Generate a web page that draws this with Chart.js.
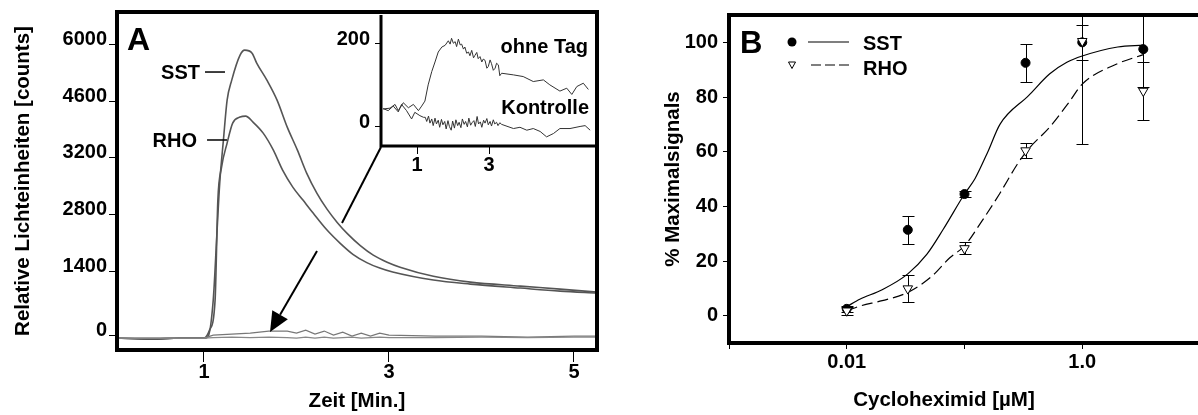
<!DOCTYPE html>
<html>
<head>
<meta charset="utf-8">
<title>Lichteinheiten und Cycloheximid</title>
<script src="https://cdn.jsdelivr.net/npm/chart.js@4.4.1/dist/chart.umd.min.js"></script>
<style>
  html, body { margin: 0; padding: 0; background: #fff; overflow: hidden; }
  #page { position: relative; width: 1198px; height: 415px; overflow: hidden; }
  canvas { position: absolute; top: 0; }
  #chartA { left: 0; }
  #inset { left: 320px; }
  #chartB { left: 640px; }
</style>
</head>
<body>
<div id="page">
  <canvas id="chartA" width="610" height="415"></canvas>
  <canvas id="inset" width="290" height="180"></canvas>
  <canvas id="chartB" width="575" height="415"></canvas>
</div>
<script>
// Panel A: light signal over time
const timeTicks = [1, 3, 5];
// the printed axis is not evenly labelled, so each label sits at its own position
const countTickPos = [0, 1545, 2920, 4295, 5650, 7025];
const countTickLabels = ['0', '1400', '2800', '3200', '4600', '6000'];

const sstTime = [0.06, 0.42, 0.74, 1.0, 1.04, 1.10, 1.14, 1.17, 1.21, 1.25, 1.30, 1.39, 1.44, 1.52, 1.57, 1.68, 1.79, 1.90, 2.01, 2.11, 2.22, 2.33, 2.44, 2.55, 2.69, 2.83, 2.98, 3.12, 3.48, 3.88, 4.42, 4.85, 5.25];
const sstCounts = [-72, -97, -72, -72, -48, 845, 2462, 3669, 4707, 5673, 6156, 6759, 6880, 6807, 6566, 6156, 5673, 5021, 4466, 3911, 3428, 3040, 2720, 2450, 2160, 1930, 1760, 1640, 1420, 1279, 1183, 1110, 1038];

const rhoTime = [0.06, 0.42, 0.74, 1.0, 1.06, 1.12, 1.15, 1.19, 1.25, 1.31, 1.39, 1.45, 1.53, 1.64, 1.75, 1.85, 1.96, 2.07, 2.18, 2.33, 2.47, 2.61, 2.76, 2.90, 3.04, 3.48, 3.88, 4.42, 4.85, 5.25];
const rhoCounts = [-72, -97, -72, -72, 120, 845, 3259, 4056, 4635, 5118, 5263, 5287, 5142, 4876, 4466, 3983, 3573, 3259, 2945, 2535, 2221, 1950, 1750, 1617, 1521, 1328, 1231, 1135, 1062, 1014];

// ohne Tag / Kontrolle on the big scale (near the baseline)
const lowTime = [0.06, 1.0, 1.1, 1.3, 1.5, 1.7, 1.9, 2.0, 2.1, 2.2, 2.3, 2.4, 2.5, 2.6, 2.7, 2.8, 2.9, 3.0, 3.5, 4.0, 4.5, 5.0, 5.25];
const lowTag = [-72, -72, 0, 24, 48, 97, 97, 48, 121, 24, 97, 0, 72, -24, 48, -24, 48, 0, -24, -24, -48, -24, -24];
const lowKontrolle = [-72, -72, -60, -48, -60, -48, -60, -72, -48, -72, -48, -72, -60, -48, -72, -60, -48, -60, -60, -48, -60, -48, -48];

// Inset: zoom on the small signals
const insetTimeTicks = [1, 3];
const insetCountTicks = [0, 200];
const tagTime = [0.06, 0.25, 0.39, 0.48, 0.62, 0.76, 0.90, 1.04, 1.13, 1.22, 1.31, 1.41, 1.50, 1.59, 1.69, 1.78, 1.87, 1.92, 1.96, 2.01, 2.06, 2.10, 2.15, 2.20, 2.24, 2.29, 2.33, 2.38, 2.43, 2.47, 2.52, 2.57, 2.61, 2.66, 2.70, 2.75, 2.80, 2.84, 2.89, 2.94, 2.98, 3.03, 3.07, 3.12, 3.17, 3.21, 3.26, 3.30, 3.35, 3.68, 3.95, 4.23, 4.51, 4.69, 4.97, 5.16, 5.30, 5.44, 5.62, 5.76];
const tagCounts = [42, 44, 53, 38, 57, 45, 53, 38, 49, 61, 100, 132, 155, 179, 191, 195, 206, 198, 212, 200, 204, 192, 210, 196, 198, 186, 191, 176, 179, 170, 183, 165, 171, 178, 163, 168, 155, 162, 159, 140, 144, 160, 151, 135, 140, 152, 148, 122, 128, 124, 120, 108, 112, 100, 85, 92, 77, 96, 104, 89];
const kontTime = [0.06, 0.20, 0.34, 0.48, 0.57, 0.71, 0.85, 0.94, 1.08, 1.18, 1.23, 1.27, 1.32, 1.36, 1.41, 1.45, 1.50, 1.54, 1.59, 1.63, 1.68, 1.72, 1.77, 1.81, 1.86, 1.90, 1.95, 1.99, 2.04, 2.08, 2.13, 2.17, 2.22, 2.26, 2.31, 2.35, 2.40, 2.44, 2.49, 2.53, 2.58, 2.62, 2.67, 2.71, 2.76, 2.80, 2.85, 2.89, 2.94, 2.98, 3.03, 3.07, 3.12, 3.16, 3.21, 3.25, 3.30, 3.35, 3.68, 3.86, 4.05, 4.23, 4.42, 4.60, 4.79, 4.97, 5.25, 5.53, 5.67, 5.81];
const kontCounts = [43, 38, 49, 35, 53, 38, 18, 34, 26, 22, 22, 12, 25, 8, 18, 2, 20, 6, 15, -2, 17, 4, 12, -6, 14, 0, -9, 13, -4, 16, 2, 10, -3, 18, 5, 12, -1, 20, 3, 9, 14, 0, 24, 6, 11, -2, 15, 8, 19, 4, 12, 1, 16, 6, 10, 2, 9, 5, -5, -2, -9, -5, -12, -25, -17, -5, -5, 0, 2, -9];

// Panel B: dose response
const doseTicks = [0.001, 0.01, 0.1, 1, 10];
const doseTickLabels = ['', '0.01', '', '1.0', ''];
const percentTicks = [0, 20, 40, 60, 80, 100];
const dose = [0.01, 0.033, 0.1, 0.33, 1.0, 3.3];
const sstMean = [2.5, 31.4, 44.5, 92.5, 100, 97.5];
const sstErr = [1, 5.2, 1, 6.9, 6.5, 14];
const rhoMean = [1.8, 9.9, 24.6, 60.4, 100.4, 82.2];
const rhoErr = [1.4, 4.9, 2.2, 2.7, 37.5, 10.6];
const sstFitDose = [0.01, 0.0129, 0.02, 0.033, 0.048, 0.066, 0.1, 0.123, 0.158, 0.2, 0.35, 0.53, 0.74, 1.0, 2.0, 3.3];
const sstFit = [3.3, 6, 9.5, 15.3, 22.5, 31.6, 44.5, 50.2, 60, 70, 80.5, 88.5, 92.7, 95, 98.3, 99];
const rhoFitDose = [0.01, 0.0129, 0.02, 0.033, 0.053, 0.075, 0.1, 0.14, 0.2, 0.28, 0.35, 0.53, 0.77, 1.0, 2.0, 3.3];
const rhoFit = [1.8, 3.5, 5.5, 8.5, 14.5, 21.2, 25.5, 34.5, 44.8, 55.3, 61, 69, 78, 84.7, 92.2, 95.5];

(function() {
  'use strict';

  const FONT = '"Liberation Sans", Arial, sans-serif';
  Chart.defaults.font.family = FONT;
  Chart.defaults.font.weight = 'bold';
  Chart.defaults.color = '#000';

  const tickFont = { size: 20, weight: 'bold', lineHeight: 1 };
  const titleFont = { size: 20.5, weight: 'bold', lineHeight: 1.2 };

  function zip(xs, ys) {
    return xs.map((x, i) => ({ x: x, y: ys[i] }));
  }

  function tickGrid(len) {
    return { display: true, drawOnChartArea: false, drawTicks: true, tickLength: len, color: '#000', lineWidth: 1 };
  }

  function line(ctx, x1, y1, x2, y2) {
    ctx.beginPath();
    ctx.moveTo(x1, y1);
    ctx.lineTo(x2, y2);
    ctx.stroke();
  }

  // Frame, labels and arrows of panel A
  const panelANotes = {
    id: 'panelANotes',
    afterDraw(chart) {
      const { ctx, chartArea: a, scales: { x, y } } = chart;
      ctx.save();
      ctx.strokeStyle = '#000';
      ctx.fillStyle = '#000';
      ctx.lineWidth = 4;
      ctx.strokeRect(a.left, a.top, a.right - a.left, a.bottom - a.top);

      ctx.font = 'bold 32px ' + FONT;
      ctx.textAlign = 'left';
      ctx.textBaseline = 'alphabetic';
      ctx.fillText('A', a.left + 10, a.top + 38);

      // curve names with their leader dashes
      ctx.font = 'bold 20px ' + FONT;
      ctx.textAlign = 'right';
      ctx.lineWidth = 1.5;
      [
        { text: 'SST', t: 0.957, v: 6351, lead: [1.011, 1.227] },
        { text: 'RHO', t: 0.924, v: 4710, lead: [1.033, 1.249] }
      ].forEach(n => {
        const py = y.getPixelForValue(n.v);
        ctx.fillText(n.text, x.getPixelForValue(n.t), py + 7);
        line(ctx, x.getPixelForValue(n.lead[0]), py, x.getPixelForValue(n.lead[1]), py);
      });

      // line from the inset corner
      ctx.lineWidth = 2;
      line(ctx, x.getPixelForValue(2.914), y.getPixelForValue(4541), x.getPixelForValue(2.492), y.getPixelForValue(2706));

      // arrow to the small signal
      const x1 = x.getPixelForValue(2.222), y1 = y.getPixelForValue(2030);
      const x2 = x.getPixelForValue(1.714), y2 = y.getPixelForValue(75);
      const len = Math.hypot(x2 - x1, y2 - y1);
      const ux = (x2 - x1) / len, uy = (y2 - y1) / len;
      const bx = x2 - ux * 20, by = y2 - uy * 20;
      line(ctx, x1, y1, bx, by);
      ctx.beginPath();
      ctx.moveTo(x2, y2);
      ctx.lineTo(bx - uy * 9, by + ux * 9);
      ctx.lineTo(bx + uy * 9, by - ux * 9);
      ctx.closePath();
      ctx.fill();
      ctx.restore();
    }
  };

  // Left and bottom edge of the inset, plus its labels
  const insetNotes = {
    id: 'insetNotes',
    afterDraw(chart) {
      const { ctx, chartArea: a } = chart;
      ctx.save();
      ctx.strokeStyle = '#000';
      ctx.fillStyle = '#000';
      ctx.lineWidth = 3;
      ctx.beginPath();
      ctx.moveTo(a.left, a.top);
      ctx.lineTo(a.left, a.bottom);
      ctx.lineTo(a.right, a.bottom);
      ctx.stroke();
      ctx.font = 'bold 20px ' + FONT;
      ctx.textAlign = 'right';
      ctx.textBaseline = 'alphabetic';
      ctx.fillText('ohne Tag', a.right - 9, a.top + 38);
      ctx.fillText('Kontrolle', a.right - 8, a.top + 99);
      ctx.restore();
    }
  };

  // Error bars for panel B, drawn under the markers
  const errorBars = {
    id: 'errorBars',
    beforeDatasetsDraw(chart) {
      const { ctx, chartArea: a, scales: { x, y } } = chart;
      ctx.save();
      ctx.beginPath();
      ctx.rect(a.left, a.top, a.right - a.left, a.bottom - a.top);
      ctx.clip();
      ctx.strokeStyle = '#000';
      ctx.lineWidth = 1;
      [[sstMean, sstErr], [rhoMean, rhoErr]].forEach(([m, e]) => {
        dose.forEach((d, i) => {
          const px = Math.round(x.getPixelForValue(d)) + 0.5;
          const top = Math.round(y.getPixelForValue(m[i] + e[i])) + 0.5;
          const bot = Math.round(y.getPixelForValue(m[i] - e[i])) + 0.5;
          line(ctx, px, top, px, bot);
          line(ctx, px - 6, top, px + 6, top);
          line(ctx, px - 6, bot, px + 6, bot);
        });
      });
      ctx.restore();
    }
  };

  // Frame, letter, legend and x title of panel B
  const panelBNotes = {
    id: 'panelBNotes',
    afterDraw(chart) {
      const { ctx, chartArea: a } = chart;
      ctx.save();
      ctx.strokeStyle = '#000';
      ctx.fillStyle = '#000';
      ctx.lineWidth = 4;
      ctx.strokeRect(a.left, a.top, a.right - a.left, a.bottom - a.top);

      ctx.font = 'bold 31px ' + FONT;
      ctx.textAlign = 'left';
      ctx.textBaseline = 'alphabetic';
      ctx.fillText('B', a.left + 11, a.top + 38);

      // legend
      const lx = a.left + 63;
      const row1 = a.top + 27, row2 = a.top + 50;
      ctx.beginPath();
      ctx.arc(lx, row1, 4.5, 0, Math.PI * 2);
      ctx.fill();
      ctx.lineWidth = 1.2;
      line(ctx, lx + 16, row1, lx + 57, row1);
      ctx.setLineDash([10, 4]);
      line(ctx, lx + 19, row2, lx + 57, row2);
      ctx.setLineDash([]);
      ctx.lineWidth = 1;
      ctx.fillStyle = '#fff';
      ctx.beginPath();
      ctx.moveTo(lx - 3.5, row2 - 3);
      ctx.lineTo(lx + 3.5, row2 - 3);
      ctx.lineTo(lx, row2 + 3.5);
      ctx.closePath();
      ctx.fill();
      ctx.stroke();
      ctx.fillStyle = '#000';
      ctx.font = 'bold 20px ' + FONT;
      ctx.fillText('SST', lx + 71, row1 + 8);
      ctx.fillText('RHO', lx + 71, row2 + 10);

      ctx.font = 'bold 20.5px ' + FONT;
      ctx.textAlign = 'center';
      ctx.fillText('Cycloheximid [\u00b5M]', a.left + 215, 406);
      ctx.restore();
    }
  };

  function initChartA() {
    const grey = '#555';
    new Chart(document.getElementById('chartA'), {
      type: 'line',
      data: {
        datasets: [
          { data: zip(lowTime, lowKontrolle), borderColor: '#888', borderWidth: 1.2 },
          { data: zip(lowTime, lowTag), borderColor: '#777', borderWidth: 1.2 },
          { data: zip(rhoTime, rhoCounts), borderColor: grey, borderWidth: 1.6, cubicInterpolationMode: 'monotone' },
          { data: zip(sstTime, sstCounts), borderColor: grey, borderWidth: 1.6, cubicInterpolationMode: 'monotone' }
        ]
      },
      options: {
        responsive: false,
        animation: false,
        events: [],
        elements: { point: { radius: 0 } },
        layout: { padding: { left: 0, top: 12, right: 13, bottom: 0 } },
        plugins: { legend: { display: false }, tooltip: { enabled: false } },
        scales: {
          x: {
            type: 'linear',
            min: 0.0595,
            max: 5.249,
            afterBuildTicks: s => { s.ticks = timeTicks.map(v => ({ value: v })); },
            afterFit: s => { s.height = 65; },
            grid: tickGrid(12),
            border: { display: false },
            ticks: { font: tickFont, padding: 0, autoSkip: false, maxRotation: 0 },
            title: { display: true, text: 'Zeit [Min.]', font: titleFont, padding: { top: 0, bottom: 1 } }
          },
          y: {
            min: -360,
            max: 7800,
            afterBuildTicks: s => { s.ticks = countTickPos.map(v => ({ value: v })); },
            afterFit: s => { s.width = 117; },
            grid: tickGrid(8),
            border: { display: false },
            ticks: {
              font: tickFont, padding: 2, labelOffset: -5, autoSkip: false,
              callback: (v, i) => countTickLabels[i]
            },
            title: { display: true, text: 'Relative Lichteinheiten [counts]', font: titleFont, padding: { top: 11, bottom: 0 } }
          }
        }
      },
      plugins: [panelANotes]
    });
  }

  function initInset() {
    new Chart(document.getElementById('inset'), {
      type: 'line',
      data: {
        datasets: [
          { data: zip(kontTime, kontCounts), borderColor: '#333', borderWidth: 1 },
          { data: zip(tagTime, tagCounts), borderColor: '#333', borderWidth: 1 }
        ]
      },
      options: {
        responsive: false,
        animation: false,
        events: [],
        elements: { point: { radius: 0 } },
        layout: { padding: { left: 0, top: 12, right: 13, bottom: 0 } },
        plugins: { legend: { display: false }, tooltip: { enabled: false } },
        scales: {
          x: {
            type: 'linear',
            min: 0,
            max: 6,
            afterBuildTicks: s => { s.ticks = insetTimeTicks.map(v => ({ value: v })); },
            afterFit: s => { s.height = 34; },
            grid: tickGrid(8),
            border: { display: false },
            ticks: { font: tickFont, padding: 1, autoSkip: false, maxRotation: 0 }
          },
          y: {
            min: -47,
            max: 268,
            afterBuildTicks: s => { s.ticks = insetCountTicks.map(v => ({ value: v })); },
            afterFit: s => { s.width = 61; },
            grid: tickGrid(6),
            border: { display: false },
            ticks: { font: tickFont, padding: 5, labelOffset: -4, autoSkip: false }
          }
        }
      },
      plugins: [insetNotes]
    });
  }

  function initChartB() {
    new Chart(document.getElementById('chartB'), {
      type: 'scatter',
      data: {
        datasets: [
          {
            data: zip(sstFitDose, sstFit), showLine: true, borderColor: '#000', borderWidth: 1.2,
            pointRadius: 0, cubicInterpolationMode: 'monotone', order: 3
          },
          {
            data: zip(rhoFitDose, rhoFit), showLine: true, borderColor: '#000', borderWidth: 1.2,
            borderDash: [11, 5], pointRadius: 0, cubicInterpolationMode: 'monotone', order: 3
          },
          {
            data: zip(dose, sstMean), pointStyle: 'circle', pointRadius: 4.5,
            backgroundColor: '#000', borderColor: '#000', order: 2
          },
          {
            data: zip(dose, rhoMean), pointStyle: 'triangle', pointRotation: 180, pointRadius: 5.5,
            backgroundColor: '#fff', borderColor: '#000', borderWidth: 1, order: 1
          }
        ]
      },
      options: {
        responsive: false,
        animation: false,
        events: [],
        layout: { padding: { left: 0, top: 13, right: 15, bottom: 0 } },
        plugins: { legend: { display: false }, tooltip: { enabled: false } },
        scales: {
          x: {
            type: 'logarithmic',
            min: 0.001,
            max: 10,
            afterBuildTicks: s => { s.ticks = doseTicks.map(v => ({ value: v })); },
            afterFit: s => { s.height = 72; },
            grid: tickGrid(6),
            border: { display: false },
            ticks: {
              font: tickFont, padding: 3, autoSkip: false, maxRotation: 0,
              callback: (v, i) => doseTickLabels[i]
            }
          },
          y: {
            min: -10,
            max: 110,
            afterBuildTicks: s => { s.ticks = percentTicks.map(v => ({ value: v })); },
            afterFit: s => { s.width = 89; },
            grid: tickGrid(6),
            border: { display: false },
            ticks: { font: tickFont, padding: 5, autoSkip: false },
            title: { display: true, text: '% Maximalsignals', font: titleFont, padding: { top: 21, bottom: 0 } }
          }
        }
      },
      plugins: [errorBars, panelBNotes]
    });
  }

  function init() {
    initChartA();
    initInset();
    initChartB();
  }

  if (document.readyState === 'loading') {
    document.addEventListener('DOMContentLoaded', init);
  } else {
    init();
  }
})();
</script>
</body>
</html>
